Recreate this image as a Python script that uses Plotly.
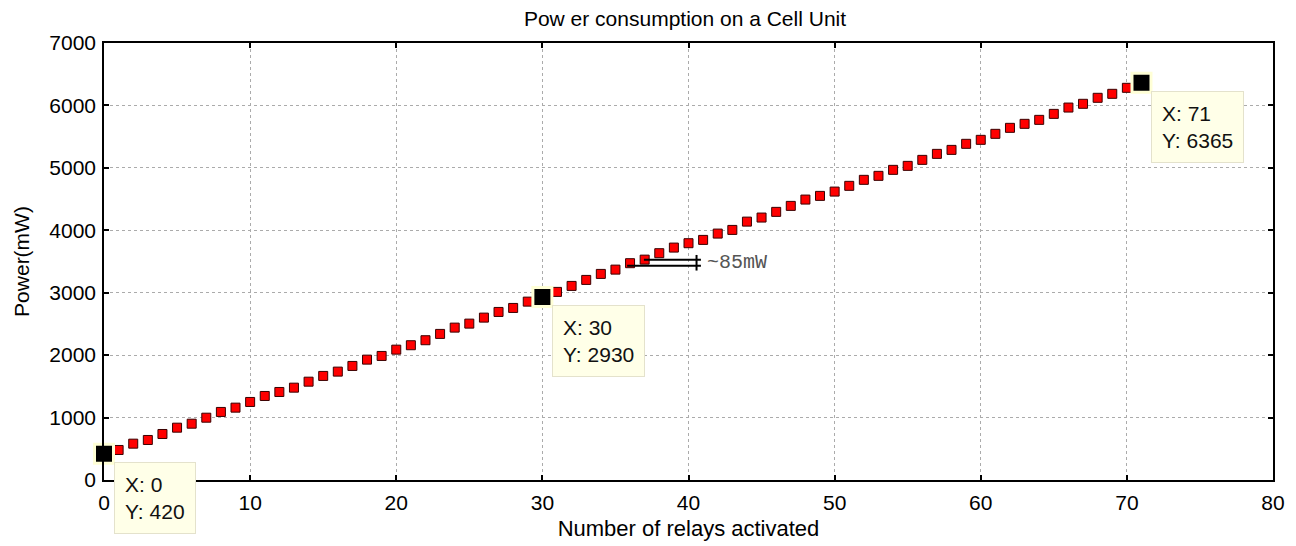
import plotly.graph_objects as go

# ---- data ----
relays = list(range(72))
power_mw = [420, 481, 582, 641, 737, 838, 902, 998, 1090, 1159,
            1250, 1346, 1410, 1479, 1575, 1667, 1736, 1827, 1928, 1987,
            2088, 2159, 2239, 2340, 2441, 2505, 2601, 2692, 2756, 2857,
            2930, 3013, 3109, 3205, 3301, 3370, 3473, 3530, 3633, 3723,
            3793, 3846, 3947, 4006, 4139, 4204, 4295, 4391, 4492, 4551,
            4620, 4712, 4808, 4872, 4968, 5032, 5128, 5224, 5288, 5385,
            5449, 5545, 5641, 5705, 5769, 5865, 5966, 6026, 6122, 6186,
            6282, 6365]

tip_x = [0, 30, 71]
tip_y = [420, 2930, 6365]

x_ticks = [0, 10, 20, 30, 40, 50, 60, 70, 80]
y_ticks = [0, 1000, 2000, 3000, 4000, 5000, 6000, 7000]

# step annotation (~85mW)
step_label = "~85mW"
step_line_y = [3430, 3530]
step_line_x0 = [35.8, 36.95]
step_line_x1 = 40.85
step_bar_x = 40.55
step_bar_y = [3355, 3605]
step_text_x = 41.1
step_text_y = 3480

title_text = "Pow er consumption on a Cell Unit"
x_title = "Number of relays activated"
y_title = "Power(mW)"

FONT = "Liberation Sans, Arial, sans-serif"

# page body has an 8px margin: figure is drawn 8px right/down of the window corner
W, H = 1288, 538

fig = go.Figure()

fig.add_trace(go.Scatter(
    x=relays, y=power_mw, mode="markers",
    marker=dict(symbol="square", size=9, color="#FF0000",
                line=dict(color="#3a0000", width=1)),
    showlegend=False, hoverinfo="skip"))

fig.add_trace(go.Scatter(
    x=tip_x, y=tip_y, mode="markers",
    marker=dict(symbol="square", size=19, color="#000000",
                line=dict(color="#FFFFD6", width=3)),
    showlegend=False, hoverinfo="skip", cliponaxis=False))

# data tip boxes
for xv, yv in zip(tip_x, tip_y):
    fig.add_annotation(
        x=xv, y=yv, xref="x", yref="y",
        text=f"X: {xv}<br>Y: {yv}", showarrow=False,
        xanchor="left", yanchor="top", align="left",
        xshift=10, yshift=-8,
        bgcolor="#FFFFE8", bordercolor="#E4E2CC", borderwidth=1,
        borderpad=10,
        font=dict(family=FONT, size=21, color="#111111"))

# step annotation lines
for y0, x0 in zip(step_line_y, step_line_x0):
    fig.add_shape(type="line", xref="x", yref="y",
                  x0=x0, x1=step_line_x1, y0=y0, y1=y0,
                  line=dict(color="#000000", width=2))
fig.add_shape(type="line", xref="x", yref="y",
              x0=step_bar_x, x1=step_bar_x, y0=step_bar_y[0], y1=step_bar_y[1],
              line=dict(color="#000000", width=2))
fig.add_annotation(x=step_text_x, y=step_text_y, xref="x", yref="y",
                   text=step_label, showarrow=False, xanchor="left",
                   yanchor="middle",
                   font=dict(family="Liberation Mono, Courier New, monospace",
                             size=20, color="#555555"))

axis_common = dict(
    showline=True, linecolor="#000000", linewidth=1.5, mirror="ticks",
    ticks="inside", ticklen=5, tickcolor="#000000", tickwidth=1.5,
    showgrid=True, gridcolor="#ababab", griddash="dot", gridwidth=1,
    zeroline=False, automargin=False,
    tickfont=dict(family=FONT, size=21, color="#000000"),
)

fig.update_xaxes(range=[0, 80], tickvals=x_ticks,
                 ticktext=[str(v) for v in x_ticks],
                 title=dict(text=x_title, standoff=8,
                            font=dict(family=FONT, size=22, color="#000000")),
                 ticklabelstandoff=3,
                 **axis_common)
fig.update_yaxes(range=[0, 7000], tickvals=y_ticks,
                 ticktext=[str(v) for v in y_ticks],
                 title=dict(text=y_title, standoff=14,
                            font=dict(family=FONT, size=21, color="#000000")),
                 ticklabelstandoff=2,
                 **axis_common)

fig.update_layout(
    width=W, height=H,
    margin=dict(l=96, r=23, t=35, b=66, autoexpand=False),
    paper_bgcolor="#FFFFFF", plot_bgcolor="#FFFFFF",
    title=dict(text=title_text, x=0.497, xref="paper", xanchor="center",
               y=1 - 10.5 / H, yanchor="middle", yref="container",
               font=dict(family=FONT, size=21, color="#000000")),
)

fig.write_html("out.html")
